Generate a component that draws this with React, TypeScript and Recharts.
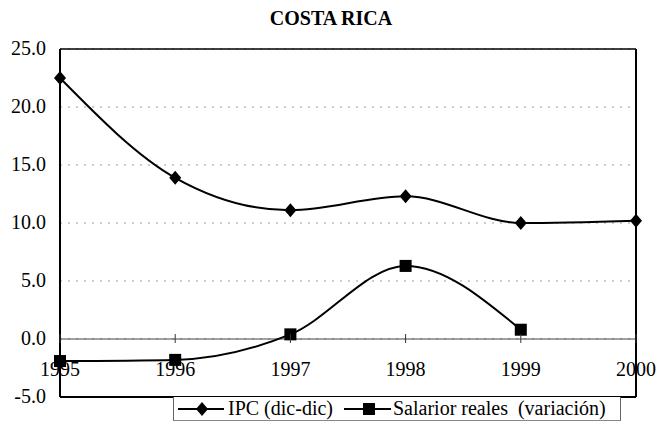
import React from "react";
import {
  LineChart,
  Line,
  XAxis,
  YAxis,
  CartesianGrid,
  ReferenceLine,
  Legend,
} from "recharts";

const years = ["1995", "1996", "1997", "1998", "1999", "2000"];
const ipc = [22.5, 13.9, 11.1, 12.3, 10.0, 10.2];
const salarios = [-1.9, -1.8, 0.4, 6.3, 0.8, null];
const yTicks = [-5, 0, 5, 10, 15, 20, 25];

const data = years.map((y, i) => ({ year: y, ipc: ipc[i], sal: salarios[i] }));

const FONT = '"Liberation Serif"';

const Diamond = (props: any) => {
  const { cx, cy } = props;
  if (cx == null || cy == null) return null;
  return <polygon points={`${cx},${cy - 7} ${cx + 6},${cy} ${cx},${cy + 7} ${cx - 6},${cy}`} fill="#000" />;
};

const Square = (props: any) => {
  const { cx, cy } = props;
  if (cx == null || cy == null) return null;
  return <rect x={cx - 6} y={cy - 6} width={12} height={12} fill="#000" />;
};

// year labels sit just under the zero line, with a small tick crossing it
const YearTick = (props: any) => {
  const { x, y, payload } = props;
  return (
    <g>
      <line x1={x} x2={x} y1={y - 63} y2={y - 54} stroke="#333" strokeWidth={1} />
      <text x={x} y={y - 21} textAnchor="middle" fontFamily="Liberation Serif" fontSize={20} fill="#000">
        {payload.value}
      </text>
    </g>
  );
};

const YTick = (props: any) => {
  const { x, y, payload } = props;
  return (
    <text x={x} y={y} dy={6} textAnchor="end" fontFamily="Liberation Serif" fontSize={20} fill="#000">
      {Number(payload.value).toFixed(1)}
    </text>
  );
};

const LegendBox = () => (
  <div
    style={{
      borderLeft: "1px solid #666",
      borderRight: "1px solid #666",
      borderBottom: "1px solid #888",
      width: 448,
      height: 24,
      boxSizing: "border-box",
      display: "flex",
      alignItems: "center",
      fontFamily: FONT,
      fontSize: 20,
      color: "#000",
      paddingLeft: 4,
      background: "#fff",
    }}
  >
    <svg width={46} height={16} style={{ flex: "none" }}>
      <line x1={0} x2={46} y1={8} y2={8} stroke="#000" strokeWidth={2} />
      <Diamond cx={24} cy={8} />
    </svg>
    <span style={{ marginLeft: 4, width: 116, flex: "none" }}>IPC (dic-dic)</span>
    <svg width={47} height={16} style={{ flex: "none" }}>
      <line x1={0} x2={47} y1={8} y2={8} stroke="#000" strokeWidth={2} />
      <Square cx={25} cy={8} />
    </svg>
    <span style={{ marginLeft: 2, whiteSpace: "pre" }}>Salarior reales  (variación)</span>
  </div>
);

export default function App() {
  return (
    <div style={{ position: "absolute", left: 0, top: 0, width: 657, height: 429, background: "#fff" }}>
      <div
        style={{
          position: "absolute",
          left: 0,
          width: 662,
          top: 7,
          textAlign: "center",
          fontFamily: FONT,
          fontWeight: "bold",
          fontSize: 20,
        }}
      >
        COSTA RICA
      </div>
      <LineChart width={657} height={429} data={data} margin={{ top: 49, right: 21, left: 0, bottom: 7 }}>
        <CartesianGrid vertical={false} stroke="#999" strokeDasharray="2 6" />
        <XAxis
          dataKey="year"
          axisLine={false}
          tickLine={false}
          tickSize={0}
          tickMargin={0}
          tick={<YearTick />}
          height={1}
          interval={0}
        />
        <YAxis
          domain={[-5, 25]}
          ticks={yTicks}
          width={60}
          axisLine={{ stroke: "#000", strokeWidth: 2 }}
          tickLine={false}
          tickSize={0}
          tickMargin={14}
          tick={<YTick />}
        />
        <ReferenceLine y={25} stroke="#000" strokeWidth={1.5} />
        <ReferenceLine y={-5} stroke="#000" strokeWidth={2} />
        <ReferenceLine y={0} stroke="#444" strokeWidth={1} />
        <ReferenceLine x="2000" stroke="#000" strokeWidth={2} />
        <Legend
          verticalAlign="bottom"
          content={<LegendBox />}
          wrapperStyle={{ position: "absolute", left: 173, top: 397, width: 448, height: 24 }}
        />
        <Line
          dataKey="ipc"
          type="monotone"
          stroke="#000"
          strokeWidth={2}
          dot={<Diamond />}
          activeDot={false}
          isAnimationActive={false}
        />
        <Line
          dataKey="sal"
          type="monotone"
          stroke="#000"
          strokeWidth={2}
          dot={<Square />}
          activeDot={false}
          connectNulls={false}
          isAnimationActive={false}
        />
      </LineChart>
    </div>
  );
}
